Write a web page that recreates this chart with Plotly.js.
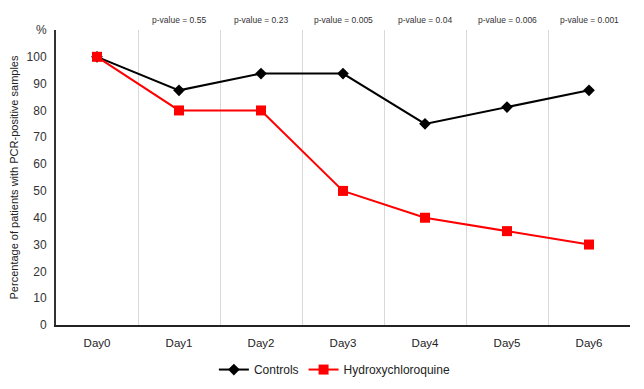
<!DOCTYPE html>
<html>
<head>
<meta charset="utf-8">
<script src="https://cdn.plot.ly/plotly-3.0.1.min.js"></script>
<style>html,body{margin:0;padding:0;background:#fff;}#chart{width:644px;height:389px;}</style>
</head>
<body>
<div id="chart"></div>
<script>
const days = ["Day0","Day1","Day2","Day3","Day4","Day5","Day6"];
const controls = [100, 87.5, 93.75, 93.75, 75, 81.25, 87.5];
const hydroxychloroquine = [100, 80, 80, 50, 40, 35, 30];
const pDays = ["Day1","Day2","Day3","Day4","Day5","Day6"];
const pValues = ["p-value = 0.55","p-value = 0.23","p-value = 0.005","p-value = 0.04","p-value = 0.006","p-value = 0.001"];
const yTickVals = [0,10,20,30,40,50,60,70,80,90,100,110];
const yTickText = ["0","10","20","30","40","50","60","70","80","90","100","%"];

const FONT = "Liberation Sans Narrow, Arial Narrow, Liberation Sans, Arial, sans-serif";

const traces = [
  {x: days, y: controls, name: "Controls", type: "scatter", mode: "lines+markers",
   line: {color: "#000000", width: 2}, marker: {symbol: "diamond", size: 9, color: "#000000"}},
  {x: days, y: hydroxychloroquine, name: "Hydroxychloroquine", type: "scatter", mode: "lines+markers",
   line: {color: "#ff0000", width: 2}, marker: {symbol: "square", size: 10, color: "#ff0000"}}
];

const annotations = pDays.map((d, i) => ({
  x: d, xref: "x", y: 1, yref: "paper", yanchor: "bottom", yshift: 3,
  text: pValues[i], showarrow: false, font: {family: FONT, size: 8.5, color: "#333333"}
}));

const layout = {
  width: 644, height: 389,
  margin: {l: 56, r: 14, t: 30, b: 64, autoexpand: false},
  paper_bgcolor: "#ffffff", plot_bgcolor: "#ffffff",
  font: {family: FONT, size: 12, color: "#333333"},
  showlegend: true,
  legend: {orientation: "h", x: 0.52, xref: "container", xanchor: "center",
           y: 0.05, yref: "container", yanchor: "middle",
           font: {family: FONT, size: 12, color: "#222222"}, itemwidth: 30},
  xaxis: {type: "category", range: [-0.5, 6.5], tickson: "boundaries",
          showgrid: true, gridcolor: "#d9d9d9", gridwidth: 1,
          showline: true, linecolor: "#222222", linewidth: 2,
          ticks: "", ticklabelstandoff: 6,
          tickfont: {family: FONT, size: 11.5, color: "#222222"}, fixedrange: true},
  yaxis: {range: [0, 110], tickvals: yTickVals, ticktext: yTickText,
          showgrid: false, zeroline: false, automargin: false,
          showline: true, linecolor: "#333333", linewidth: 2, ticks: "",
          ticklabelstandoff: 5,
          tickfont: {family: FONT, size: 12, color: "#333333"},
          title: {text: "Percentage of patients with PCR-positive samples",
                  font: {family: FONT, size: 11, color: "#222222"}, standoff: 6}},
  annotations: annotations
};

Plotly.newPlot("chart", traces, layout, {displayModeBar: false, staticPlot: true});
</script>
</body>
</html>
